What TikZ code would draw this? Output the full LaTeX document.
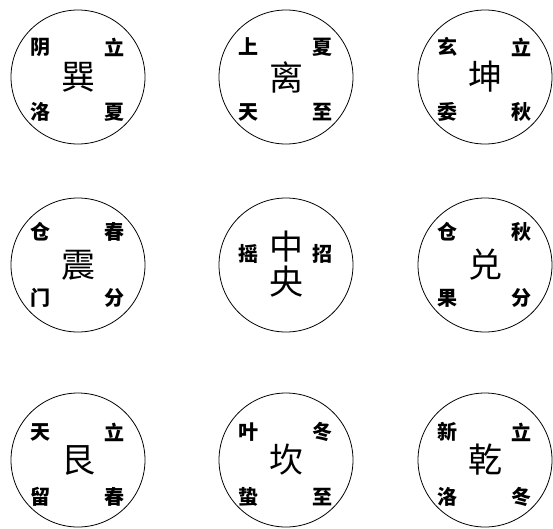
\documentclass[tikz,border=0pt]{standalone}
\usepackage{fontspec}
\newfontfamily\cjk{Noto Sans CJK SC}

\begin{document}
\begin{tikzpicture}[
  x=1pt, y=-1pt,
  gong/.style={circle, draw, line width=0.8pt, minimum size=134pt, inner sep=0pt},
  gua/.style={font=\cjk\fontsize{34}{34}\selectfont, inner sep=0pt},
  jie/.style={font=\cjk\bfseries\fontsize{20}{20}\selectfont, inner sep=0pt},
]
\useasboundingbox (0,0) rectangle (553,528);

% -- top row --
\node[gong] (xun) at (78,77) {};
\node[gua] (xun-c) at (xun) {巽};
\node[jie] (xun-nw) at ([shift={(-38,-30)}]xun) {阴};
\node[jie] (xun-ne) at ([shift={(36,-30)}]xun) {立};
\node[jie] (xun-sw) at ([shift={(-38,35)}]xun) {洛};
\node[jie] (xun-se) at ([shift={(36,35)}]xun) {夏};

\node[gong] (li) at (286,77) {};
\node[gua] (li-c) at (li) {离};
\node[jie] (li-nw) at ([shift={(-38,-30)}]li) {上};
\node[jie] (li-ne) at ([shift={(36,-30)}]li) {夏};
\node[jie] (li-sw) at ([shift={(-38,35)}]li) {天};
\node[jie] (li-se) at ([shift={(36,35)}]li) {至};

\node[gong] (kun) at (485,77) {};
\node[gua] (kun-c) at (kun) {坤};
\node[jie] (kun-nw) at ([shift={(-38,-30)}]kun) {玄};
\node[jie] (kun-ne) at ([shift={(36,-30)}]kun) {立};
\node[jie] (kun-sw) at ([shift={(-38,35)}]kun) {委};
\node[jie] (kun-se) at ([shift={(36,35)}]kun) {秋};

% -- middle row --
\node[gong] (zhen) at (78,265) {};
\node[gua] (zhen-c) at (zhen) {震};
\node[jie] (zhen-nw) at ([shift={(-38,-33)}]zhen) {仓};
\node[jie] (zhen-ne) at ([shift={(36,-33)}]zhen) {春};
\node[jie] (zhen-sw) at ([shift={(-38,33)}]zhen) {门};
\node[jie] (zhen-se) at ([shift={(36,33)}]zhen) {分};

\node[gong] (zhong) at (286,265) {};
\node[gua] (zhong-n) at ([shift={(0,-18)}]zhong) {中};
\node[gua] (zhong-s) at ([shift={(0,17)}]zhong) {央};
\node[jie] (zhong-w) at ([shift={(-38,-11)}]zhong) {摇};
\node[jie] (zhong-e) at ([shift={(36,-11)}]zhong) {招};

\node[gong] (dui) at (485,265) {};
\node[gua] (dui-c) at (dui) {兑};
\node[jie] (dui-nw) at ([shift={(-38,-33)}]dui) {仓};
\node[jie] (dui-ne) at ([shift={(36,-33)}]dui) {秋};
\node[jie] (dui-sw) at ([shift={(-38,33)}]dui) {果};
\node[jie] (dui-se) at ([shift={(36,33)}]dui) {分};

% -- bottom row --
\node[gong] (gen) at (78,460) {};
\node[gua] (gen-c) at (gen) {艮};
\node[jie] (gen-nw) at ([shift={(-38,-28)}]gen) {天};
\node[jie] (gen-ne) at ([shift={(36,-28)}]gen) {立};
\node[jie] (gen-sw) at ([shift={(-38,37)}]gen) {留};
\node[jie] (gen-se) at ([shift={(36,37)}]gen) {春};

\node[gong] (kan) at (286,460) {};
\node[gua] (kan-c) at (kan) {坎};
\node[jie] (kan-nw) at ([shift={(-38,-28)}]kan) {叶};
\node[jie] (kan-ne) at ([shift={(36,-28)}]kan) {冬};
\node[jie] (kan-sw) at ([shift={(-38,37)}]kan) {蛰};
\node[jie] (kan-se) at ([shift={(36,37)}]kan) {至};

\node[gong] (qian) at (485,460) {};
\node[gua] (qian-c) at (qian) {乾};
\node[jie] (qian-nw) at ([shift={(-38,-28)}]qian) {新};
\node[jie] (qian-ne) at ([shift={(36,-28)}]qian) {立};
\node[jie] (qian-sw) at ([shift={(-38,37)}]qian) {洛};
\node[jie] (qian-se) at ([shift={(36,37)}]qian) {冬};

\end{tikzpicture}
\end{document}
